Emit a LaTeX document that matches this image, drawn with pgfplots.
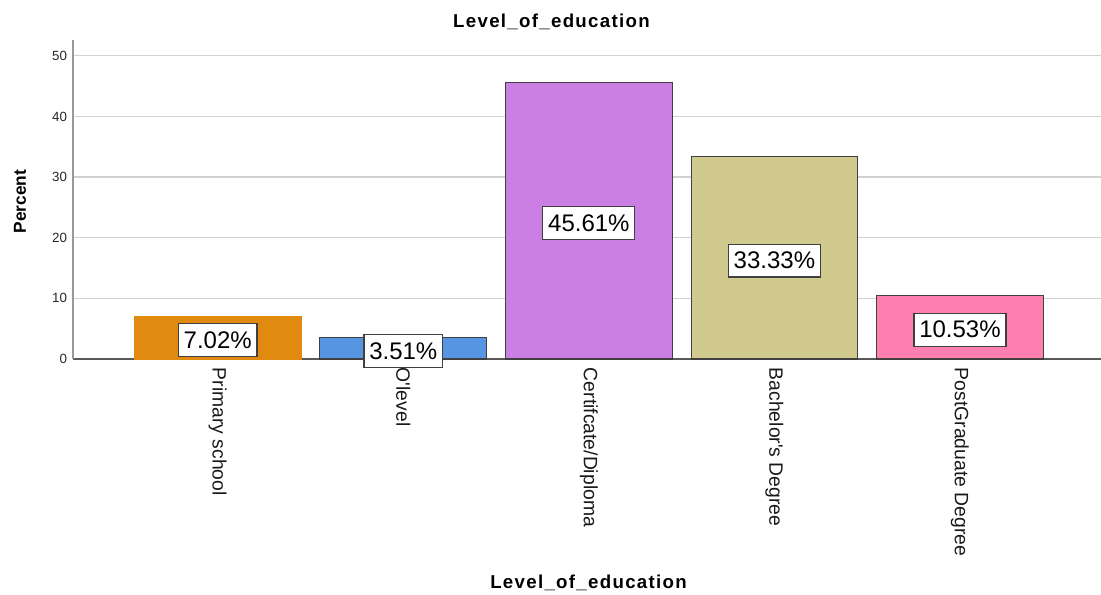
\documentclass[border=0pt]{standalone}
\usepackage{pgfplots}
\pgfplotsset{compat=1.18}
\usepackage{fontspec}
\setmainfont{Liberation Sans}
\definecolor{cOrange}{HTML}{E08A0F}
\definecolor{cBlue}{HTML}{5595E2}
\definecolor{cPurple}{HTML}{CC7FE3}
\definecolor{cKhaki}{HTML}{D0CA8F}
\definecolor{cPink}{HTML}{FF80B0}
\definecolor{cEdge}{HTML}{404040}
\begin{document}
\begin{tikzpicture}
\path[use as bounding box] (0,0) rectangle (825.75pt,445.5pt);
\begin{axis}[
  at={(54.75pt,176.25pt)}, anchor=south west,
  scale only axis, width=771pt, height=239.25pt,
  xmin=-0.78, xmax=4.76, ymin=0, ymax=52.6,
  axis x line*=bottom, axis y line*=left,
  x axis line style={draw=black!65, line width=0.9pt, -},
  y axis line style={draw=black!40, line width=1pt, -},
  ytick={0,10,...,50},
  xtick={0,1,2,3,4},
  xticklabels={Primary school, O\textquotesingle level, Certifcate/Diploma, Bachelor\textquotesingle s Degree, PostGraduate Degree},
  major tick length=0pt,
  ymajorgrids, grid style={draw=black!18, line width=1pt},
  /pgf/number format/assume math mode=true,
  yticklabel style={font=\fontsize{10}{10}\selectfont, text=black!85, xshift=-1pt},
  xticklabel style={font=\fontsize{14.5}{14.5}\selectfont, text=black!90, rotate=-90, anchor=west, inner sep=0pt},
  xticklabel shift=6.5pt,
  ybar, bar width=125pt,
  nodes near coords={\pgfmathprintnumber[fixed,fixed zerofill,precision=2]{\pgfplotspointmeta}\%},
  visualization depends on={y \as \rawy},
  every node near coord/.append style={anchor=center, shift={(axis direction cs:0,-\rawy/2)}, yshift=-2pt, draw=cEdge, fill=white, line width=0.9pt, font=\fontsize{18}{18}\selectfont, text=black, inner xsep=4pt, inner ysep=6pt},
]
\addplot[bar shift=0pt, fill=cOrange, draw=cOrange, line width=0.8pt] coordinates {(0,7.02)};
\addplot[bar shift=0pt, fill=cBlue, draw=cEdge, line width=0.8pt] coordinates {(1,3.51)};
\addplot[bar shift=0pt, fill=cPurple, draw=cEdge, line width=0.8pt] coordinates {(2,45.61)};
\addplot[bar shift=0pt, fill=cKhaki, draw=cEdge, line width=0.8pt] coordinates {(3,33.33)};
\addplot[bar shift=0pt, fill=cPink, draw=cEdge, line width=0.8pt] coordinates {(4,10.53)};
\end{axis}
\node[font=\bfseries\fontsize{14}{14}\selectfont\addfontfeature{LetterSpace=7}] at (413.6pt,429pt) {Level\_of\_education};
\node[font=\bfseries\fontsize{14}{14}\selectfont\addfontfeature{LetterSpace=7}] at (441.4pt,8.25pt) {Level\_of\_education};
\node[font=\bfseries\fontsize{13}{13}\selectfont, rotate=90] at (15pt,294.4pt) {Percent};
\end{tikzpicture}
\end{document}
